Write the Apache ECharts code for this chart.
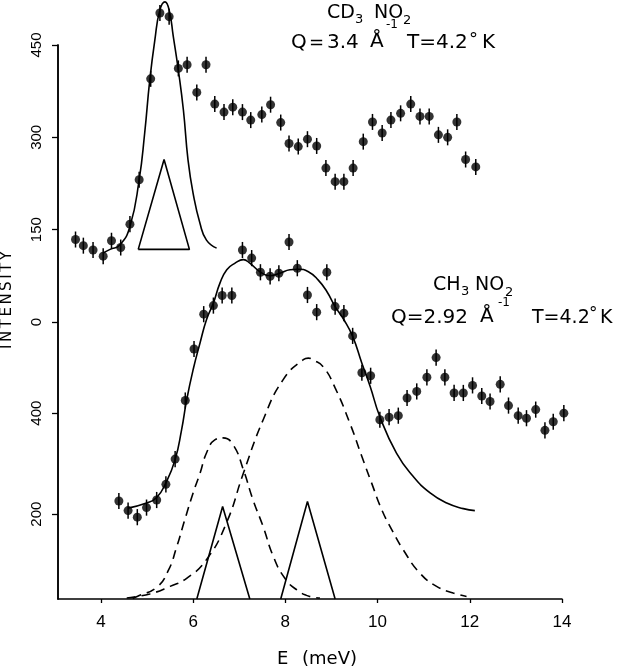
<!DOCTYPE html>
<html><head><meta charset="utf-8">
<script src="https://cdn.jsdelivr.net/npm/echarts@6/dist/echarts.min.js"></script>
<style>html,body{margin:0;padding:0;background:#fff}#c{width:640px;height:667px}</style>
</head><body><div id="c"></div>
<script>
// ---------- CD3NO2 (upper scale) ----------
const cd3E = [3.45,3.62,3.83,4.05,4.23,4.43,4.63,4.83,5.08,5.28,5.48,5.68,5.87,6.08,6.28,6.47,6.67,6.86,7.07,7.25,7.49,7.68,7.90,8.08,8.28,8.48,8.68,8.88,9.08,9.27,9.47,9.69,9.89,10.10,10.29,10.50,10.72,10.92,11.12,11.32,11.52,11.72,11.91,12.13];
const cd3I = [134,124,117,107,132,121,159,231,395,502,496,412,418,373,418,354,341,349,341,328,337,353,324,290,285,297,286,250,228,228,250,293,325,307,328,339,354,334,334,304,300,325,264,252];
const cd3FitE = [4.05,4.20,4.41,4.63,4.83,4.95,5.06,5.17,5.28,5.39,5.48,5.57,5.68,5.79,5.89,6.00,6.15,6.29,6.51];
const cd3FitI = [112,118,125,155,231,307,393,458,507,520,507,464,409,344,263,209,160,133,120];
const cd3TriE = [4.81,5.37,5.92,4.81];
const cd3TriI = [118,264,118,118];
const cd3Err = 13;

// ---------- CH3NO2 (lower scale) ----------
const ch3E = [4.39,4.59,4.79,4.99,5.21,5.41,5.61,5.83,6.02,6.23,6.44,6.63,6.84,7.07,7.27,7.46,7.67,7.86,8.08,8.26,8.48,8.68,8.90,9.08,9.27,9.46,9.66,9.85,10.05,10.25,10.45,10.64,10.85,11.07,11.27,11.46,11.66,11.86,12.06,12.26,12.44,12.66,12.84,13.05,13.23,13.43,13.63,13.81,14.04];
const ch3I = [226,207,194,213,228,259,309,425,527,596,613,633,633,723,707,679,671,677,739,687,634,600,679,611,598,553,480,474,387,392,395,430,443,471,510,471,440,440,455,434,423,457,415,395,390,407,366,383,400];
const ch3FitE = [4.59,4.99,5.21,5.41,5.61,5.75,5.86,6.00,6.15,6.29,6.44,6.58,6.73,6.91,7.09,7.23,7.45,7.67,7.88,8.10,8.28,8.50,8.71,8.90,9.08,9.27,9.46,9.66,9.84,10.05,10.41,10.77,11.14,11.50,11.86,12.11];
const ch3FitI = [212,222,233,262,308,367,426,486,539,585,618,657,684,697,704,697,680,672,677,684,685,680,664,641,611,585,552,499,453,393,321,275,242,222,211,207];
const ch3Dash1E = [4.69,4.81,5.21,5.46,5.64,5.82,6.00,6.15,6.29,6.47,6.65,6.87,7.09,7.30,7.52,7.74,7.99,8.25,8.53,8.75];
const ch3Dash1I = [33,38,55,88,134,189,242,281,321,347,351,337,288,228,175,116,73,50,37,34];
const ch3Dash2E = [4.56,5.06,5.50,5.86,6.29,6.72,7.09,7.52,7.95,8.39,8.50,8.61,8.82,9.08,9.40,9.66,9.87,10.09,10.31,10.56,10.92,11.28,11.64,11.93];
const ch3Dash2I = [34,42,57,73,110,182,281,387,466,506,509,505,492,450,380,314,262,209,169,129,83,57,44,37];
const ch3Tri1E = [6.08,6.64,7.23];
const ch3Tri1I = [32,215,32];
const ch3Tri2E = [7.90,8.48,9.08];
const ch3Tri2I = [32,225,32];
const ch3Err = 16;

// ---------- ticks ----------
const xTicks = [4,6,8,10,12,14];
const yTicksUpper = [0,150,300,450];
const yTicksLower = [200,400];

const INK = '#000';
const zip = (a, b) => a.map((v, i) => [v, b[i]]);

function lineS(E, I, yIdx, dashed) {
  return { type: 'line', xAxisIndex: 0, yAxisIndex: yIdx, data: zip(E, I), symbol: 'none',
    smooth: true, clip: false, silent: true,
    lineStyle: { color: INK, width: 1.6, type: dashed ? [9, 6] : 'solid' }, z: 2 };
}
function polyS(E, I, yIdx) {
  return { type: 'line', xAxisIndex: 0, yAxisIndex: yIdx, data: zip(E, I), symbol: 'none',
    smooth: false, clip: false, silent: true, lineStyle: { color: INK, width: 1.6 }, z: 2 };
}
function errS(E, I, err, yIdx) {
  return { type: 'custom', xAxisIndex: 0, yAxisIndex: yIdx, clip: false, silent: true, z: 3,
    data: E.map((e, i) => [e, I[i] - err, I[i] + err]),
    encode: { x: 0, y: [1, 2] },
    renderItem: function (params, api) {
      const p1 = api.coord([api.value(0), api.value(1)]);
      const p2 = api.coord([api.value(0), api.value(2)]);
      return { type: 'line', shape: { x1: p1[0], y1: p1[1], x2: p2[0], y2: p2[1] },
        style: { stroke: INK, lineWidth: 1.5 } };
    } };
}
function dotS(E, I, yIdx) {
  return { type: 'scatter', xAxisIndex: 0, yAxisIndex: yIdx, data: zip(E, I), symbol: 'circle',
    symbolSize: 9, clip: false, silent: true, itemStyle: { color: INK }, z: 4 };
}

const FONT = 'DejaVu Sans';
function txt(s, x, y, size, extra) {
  return Object.assign({ type: 'text', x: x, y: y, silent: true,
    style: { text: s, fontSize: size, fontFamily: FONT, fill: INK,
      textAlign: 'left', textVerticalAlign: 'middle', align: 'left', verticalAlign: 'middle' } }, extra || {});
}

const graphics = [
  // CD3NO2 label
  txt('CD', 327, 13, 19), txt('3', 355, 20, 13), txt('NO', 374, 13, 19), txt('2', 403, 21, 13),
  txt('Q', 291, 43, 20), txt('=', 309, 43, 18), txt('3.4', 327, 43, 20), txt('Å', 370, 42, 20), txt('-1', 386, 25, 12),
  txt('T=4.2', 407, 43, 20), txt('°', 469, 40, 18), txt('K', 482, 43, 20),
  // CH3NO2 label
  txt('CH', 433, 285, 19), txt('3', 461, 292, 13), txt('NO', 475, 285, 19), txt('2', 505, 293, 13),
  txt('Q=2.92', 391, 318, 20), txt('Å', 480, 317, 20), txt('-1', 498, 303, 12),
  txt('T=4.2', 532, 318, 19), txt('°', 589, 315, 17), txt('K', 600, 318, 19),
  // axis titles
  txt('E', 277, 659, 18), txt('(meV)', 302, 659, 18),
  { type: 'text', x: 7, y: 300, rotation: Math.PI / 2, silent: true,
    style: { text: 'I\u2006N\u2006T\u2006E\u2006N\u2006S\u2006I\u2006T\u2006Y', fontSize: 15, fontFamily: FONT, fill: INK,
      textAlign: 'center', textVerticalAlign: 'middle', align: 'center', verticalAlign: 'middle' } }
];

const axisLineStyle = { color: INK, width: 1.5 };
const chart = echarts.init(document.getElementById('c'), null, { renderer: 'canvas' });
chart.setOption({
  animation: false,
  backgroundColor: '#fff',
  grid: { left: 58, right: 78, top: 45, bottom: 68, containLabel: false, outerBoundsMode: 'none' },
  xAxis: [{
    type: 'value', min: 3.07, max: 14,
    axisLine: { show: true, lineStyle: axisLineStyle, onZero: false },
    axisTick: { show: true, customValues: xTicks, length: 4, lineStyle: { color: INK, width: 1.3 } },
    axisLabel: { customValues: xTicks, margin: 15, fontSize: 17, fontFamily: 'Liberation Sans', color: INK },
    splitLine: { show: false }
  }],
  yAxis: [{
    type: 'value', min: 32, max: 1129, position: 'left', offset: 0,
    axisLine: { show: true, lineStyle: axisLineStyle, onZero: false },
    axisTick: { show: true, customValues: yTicksLower, length: 6, lineStyle: { color: INK, width: 1.3 } },
    axisLabel: { customValues: yTicksLower, rotate: 90, margin: 14, fontSize: 15, fontFamily: 'Liberation Sans', color: INK },
    splitLine: { show: false }
  }, {
    type: 'value', min: -450, max: 450, position: 'left', offset: 0,
    axisLine: { show: true, lineStyle: axisLineStyle, onZero: false },
    axisTick: { show: true, customValues: yTicksUpper, length: 6, lineStyle: { color: INK, width: 1.3 } },
    axisLabel: { customValues: yTicksUpper, rotate: 90, margin: 14, fontSize: 15, fontFamily: 'Liberation Sans', color: INK },
    splitLine: { show: false }
  }],
  series: [
    lineS(cd3FitE, cd3FitI, 1, false),
    polyS(cd3TriE, cd3TriI, 1),
    errS(cd3E, cd3I, cd3Err, 1),
    dotS(cd3E, cd3I, 1),
    lineS(ch3FitE, ch3FitI, 0, false),
    lineS(ch3Dash1E, ch3Dash1I, 0, true),
    lineS(ch3Dash2E, ch3Dash2I, 0, true),
    polyS(ch3Tri1E, ch3Tri1I, 0),
    polyS(ch3Tri2E, ch3Tri2I, 0),
    errS(ch3E, ch3I, ch3Err, 0),
    dotS(ch3E, ch3I, 0)
  ],
  graphic: graphics
});
</script>
</body></html>
